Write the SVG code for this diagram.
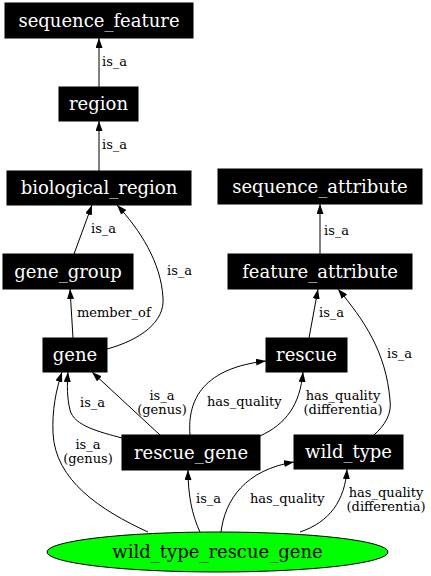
<svg xmlns="http://www.w3.org/2000/svg" width="431" height="576" viewBox="0 0 431 576">
<defs>
<marker id="ah" viewBox="0 0 10 7" refX="10" refY="3.5" markerWidth="10" markerHeight="7" markerUnits="userSpaceOnUse" orient="auto">
<path d="M0,0 L10,3.5 L0,7 z" fill="#000"/>
</marker>
<style>
.box{fill:#000;stroke:#000}
.nl{font-family:"DejaVu Serif",serif;font-size:18px;fill:#fff;text-anchor:middle}
.el{font-family:"DejaVu Serif",serif;font-size:13px;fill:#000}
.ec{font-family:"DejaVu Serif",serif;font-size:13px;fill:#000;text-anchor:middle}
.e{fill:none;stroke:#000;stroke-width:1;marker-end:url(#ah)}
</style>
</defs>
<rect width="431" height="576" fill="#fff"/>
<g id="edges">
<path class="e" d="M99,87 L99,38"/>
<text class="el" x="102" y="66">is_a</text>
<path class="e" d="M99,171 L99,121"/>
<text class="el" x="102" y="149">is_a</text>
<path class="e" d="M320,254 L320,204"/>
<text class="el" x="324" y="235">is_a</text>
<path class="e" d="M74,254 L92,205"/>
<text class="el" x="91" y="233">is_a</text>
<path class="e" d="M107,349 C140,340 165,322 163,298 C161,262 140,230 117,205"/>
<text class="el" x="167" y="275">is_a</text>
<path class="e" d="M73,338 L70,289"/>
<text class="el" x="77" y="317">member_of</text>
<path class="e" d="M309,338 L318,289"/>
<text class="el" x="319" y="317">is_a</text>
<path class="e" d="M374,435 C385,425 392,414 390,400 C386,352 364,320 338,289"/>
<text class="el" x="387" y="358">is_a</text>
<path class="e" d="M122,438 C100,432 74,426 70,410 C67,398 67,385 68,372"/>
<text class="el" x="80" y="407">is_a</text>
<path class="e" d="M160,435 L92,372"/>
<text class="ec" x="162" y="400">is_a</text>
<text class="ec" x="162" y="414">(genus)</text>
<path class="e" d="M190,435 C187,398 205,368 266,361"/>
<text class="el" x="207" y="406">has_quality</text>
<path class="e" d="M260,436 C286,424 300,405 303,372"/>
<text class="ec" x="343" y="400">has_quality</text>
<text class="ec" x="343" y="414">(differentia)</text>
<path class="e" d="M148,532 C100,510 55,480 53,433 C52,410 56,390 62,372"/>
<text class="ec" x="88" y="449">is_a</text>
<text class="ec" x="88" y="463">(genus)</text>
<path class="e" d="M200,532 C192,515 188,495 188,470"/>
<text class="el" x="196" y="503">is_a</text>
<path class="e" d="M221,532 C225,500 245,470 294,462"/>
<text class="el" x="250" y="503">has_quality</text>
<path class="e" d="M300,532 C330,522 345,500 347,469"/>
<text class="ec" x="386" y="497">has_quality</text>
<text class="ec" x="386" y="511">(differentia)</text>
</g>
<g id="sequence_feature"><rect class="box" x="5" y="3" width="188" height="35"/><text class="nl" x="99" y="26.5">sequence_feature</text></g>
<g id="region"><rect class="box" x="59" y="87" width="79" height="34"/><text class="nl" x="98.5" y="110">region</text></g>
<g id="biological_region"><rect class="box" x="7" y="171" width="184" height="34"/><text class="nl" x="99" y="194">biological_region</text></g>
<g id="sequence_attribute"><rect class="box" x="218" y="169" width="204" height="35"/><text class="nl" x="320" y="192.5">sequence_attribute</text></g>
<g id="feature_attribute"><rect class="box" x="228" y="254" width="184" height="35"/><text class="nl" x="320" y="277.5">feature_attribute</text></g>
<g id="gene_group"><rect class="box" x="3" y="254" width="130" height="35"/><text class="nl" x="68" y="277.5">gene_group</text></g>
<g id="gene"><rect class="box" x="43" y="338" width="64" height="34"/><text class="nl" x="75" y="361">gene</text></g>
<g id="rescue"><rect class="box" x="266" y="338" width="81" height="34"/><text class="nl" x="306.5" y="361">rescue</text></g>
<g id="rescue_gene"><rect class="box" x="122" y="435" width="138" height="35"/><text class="nl" x="191" y="458.5">rescue_gene</text></g>
<g id="wild_type"><rect class="box" x="294" y="435" width="109" height="34"/><text class="nl" x="348.5" y="458">wild_type</text></g>
<g id="wild_type_rescue_gene"><ellipse cx="217.5" cy="552" rx="170.5" ry="20" fill="#00ff00" stroke="#000"/><text class="nl" x="217.5" y="558" style="fill:#000">wild_type_rescue_gene</text></g>
</svg>
